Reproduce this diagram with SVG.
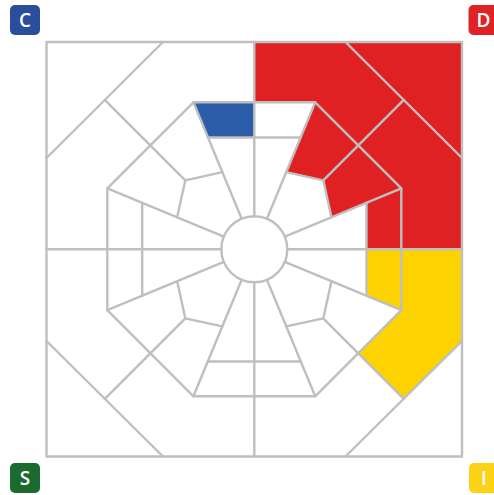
<svg xmlns="http://www.w3.org/2000/svg" width="494" height="495" viewBox="0 0 494 495">
  <style>
    .ln { fill: none; stroke: #BFBFBF; stroke-width: 2.4; stroke-linecap: round; stroke-linejoin: round; }
    .red { fill: #E02123; }
    .yel { fill: #FCD200; }
    .blu { fill: #2B5DA8; }
    .badge-txt { font-family: "Open Sans", "DejaVu Sans", sans-serif; font-weight: 600; font-size: 19px; fill: #FFFFFF; text-anchor: middle; }
  </style>
  <rect width="494" height="495" fill="#FFFFFF"/>

  <g id="cells">
    <polygon id="cell-blue" class="blu" points="193.4,102.3 254.3,102.3 254.3,137.5 208,137.5"/>
    <polygon id="cell-red-outer" class="red" points="254.3,42 462,42 462,249.3 401.3,249.3 401.3,188.4 315.2,102.3 254.3,102.3"/>
    <polygon id="cell-red-sector" class="red" points="315.2,102.3 401.3,188.4 331.45,217.35 323.3,180.3 286.25,172.15"/>
    <polygon id="cell-red-right" class="red" points="366.5,202.8 401.3,188.4 401.3,249.3 366.5,249.3"/>
    <polygon id="cell-yellow-right" class="yel" points="366.5,249.3 401.3,249.3 401.3,310.2 366.5,295.8"/>
    <polygon id="cell-yellow-outer" class="yel" points="401.3,249.3 462,249.3 462,341 403.8,398.8 358.25,353.25 401.3,310.2"/>
  </g>

  <g id="connectors" class="ln">
    <rect x="46.5" y="42" width="415.5" height="414.5"/>
    <polygon points="193.4,102.3 315.2,102.3 401.3,188.4 401.3,310.2 315.2,396.3 193.4,396.3 107.3,310.2 107.3,188.4"/>
    <circle cx="254.3" cy="249.3" r="33"/>
    <!-- radials -->
    <line x1="193.4" y1="102.3" x2="241.67" y2="218.81"/>
    <line x1="315.2" y1="102.3" x2="266.93" y2="218.81"/>
    <line x1="401.3" y1="188.4" x2="284.79" y2="236.67"/>
    <line x1="401.3" y1="310.2" x2="284.79" y2="261.93"/>
    <line x1="315.2" y1="396.3" x2="266.93" y2="279.79"/>
    <line x1="193.4" y1="396.3" x2="241.67" y2="279.79"/>
    <line x1="107.3" y1="310.2" x2="223.81" y2="261.93"/>
    <line x1="107.3" y1="188.4" x2="223.81" y2="236.67"/>
    <!-- axes -->
    <line x1="254.3" y1="42" x2="254.3" y2="216.3"/>
    <line x1="254.3" y1="282.3" x2="254.3" y2="456.5"/>
    <line x1="46.5" y1="249.3" x2="221.3" y2="249.3"/>
    <line x1="287.3" y1="249.3" x2="462" y2="249.3"/>
    <!-- inner cross lines -->
    <line x1="208" y1="137.5" x2="300.6" y2="137.5"/>
    <line x1="207.8" y1="361.5" x2="300.8" y2="361.5"/>
    <line x1="142.2" y1="202.9" x2="142.2" y2="295.7"/>
    <line x1="366.5" y1="202.8" x2="366.5" y2="295.8"/>
    <!-- outer corner diagonals -->
    <line x1="163" y1="42" x2="46.5" y2="158"/>
    <line x1="345.5" y1="42" x2="462" y2="158"/>
    <line x1="462" y1="341" x2="345.5" y2="456.5"/>
    <line x1="46.5" y1="341" x2="163" y2="456.5"/>
    <!-- 45 degree spokes -->
    <line x1="185.3" y1="180.3" x2="104.8" y2="99.8"/>
    <line x1="323.3" y1="180.3" x2="403.8" y2="99.8"/>
    <line x1="323.3" y1="318.3" x2="403.8" y2="398.8"/>
    <line x1="185.3" y1="318.3" x2="104.8" y2="398.8"/>
    <!-- inner pentagon links -->
    <polyline points="222.35,172.15 185.3,180.3 177.15,217.35"/>
    <polyline points="286.25,172.15 323.3,180.3 331.45,217.35"/>
    <polyline points="331.45,281.25 323.3,318.3 286.25,326.45"/>
    <polyline points="177.15,281.25 185.3,318.3 222.35,326.45"/>
  </g>

  <g id="badge-C">
    <rect x="10" y="5" width="30" height="30" rx="5" fill="#2A4D9C"/>
    <text class="badge-txt" x="25" y="26.8">C</text>
  </g>
  <g id="badge-D">
    <rect x="468.5" y="5" width="30" height="30" rx="5" fill="#E02226"/>
    <text class="badge-txt" x="483.5" y="26.8">D</text>
  </g>
  <g id="badge-S">
    <rect x="10" y="463" width="30" height="30" rx="5" fill="#1B6A30"/>
    <text class="badge-txt" x="25" y="484.8">S</text>
  </g>
  <g id="badge-I">
    <rect x="469" y="463" width="30" height="30" rx="5" fill="#FCD116"/>
    <text class="badge-txt" x="484" y="484.8">I</text>
  </g>
</svg>
